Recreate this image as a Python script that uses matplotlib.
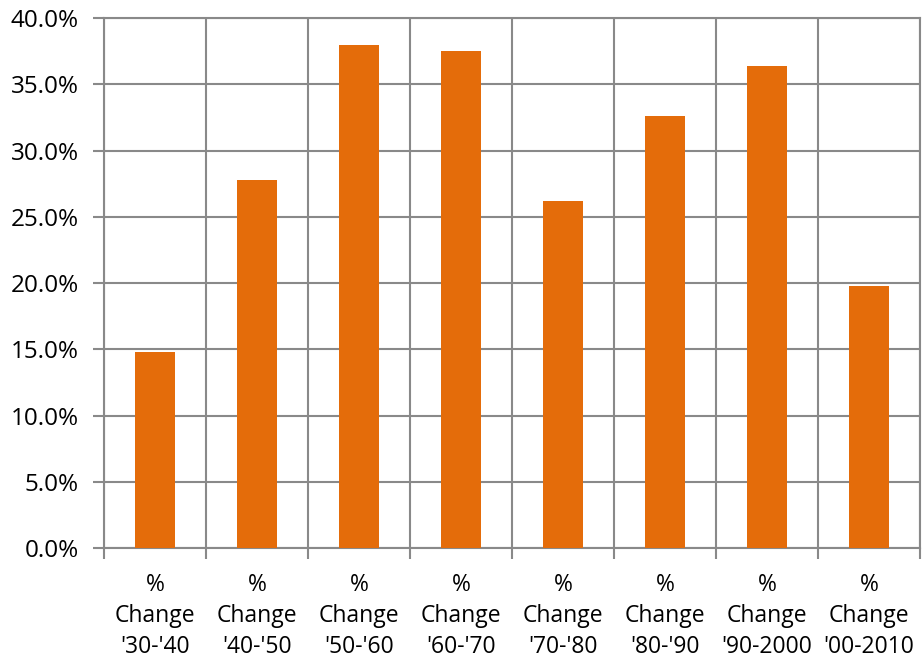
import matplotlib
matplotlib.use("Agg")
import matplotlib.pyplot as plt
from matplotlib.ticker import FuncFormatter, MultipleLocator, FixedLocator
import numpy as np

plt.rcParams['font.family'] = ['Open Sans', 'DejaVu Sans']

# census decade-over-decade growth
periods = ["'30-'40", "'40-'50", "'50-'60", "'60-'70", "'70-'80", "'80-'90", "'90-2000", "'00-2010"]
pct_change = [14.8, 27.8, 38.0, 37.5, 26.2, 32.6, 36.4, 19.8]

labels = ["%\nChange\n" + p for p in periods]
grid_col = '#898989'
bar_col = '#E46C0A'

fig = plt.figure(figsize=(9.22, 6.57), dpi=100)
ax = fig.add_axes([0.1128, 0.1659, 0.8850, 0.8067])

x = np.arange(len(periods))
ax.bar(x, pct_change, width=0.4, color=bar_col, zorder=3)

ax.set_xlim(-0.5, len(periods) - 0.5)
ax.set_ylim(0, 40)
ax.yaxis.set_major_locator(MultipleLocator(5))
ax.yaxis.set_major_formatter(FuncFormatter(lambda v, _: f"{v:.1f}%"))

ax.set_xticks(x)
ax.set_xticklabels(labels, linespacing=1.38)
ax.xaxis.set_minor_locator(FixedLocator(np.arange(-0.5, len(periods), 1.0)))
ax.tick_params(axis='x', which='major', length=0, pad=18, labelsize=16.5)
ax.tick_params(axis='x', which='minor', length=8, width=1.5, color=grid_col)
ax.tick_params(axis='y', length=8, width=1.5, color=grid_col, labelsize=17.5, pad=10)

ax.grid(axis='y', which='major', color=grid_col, linewidth=1.5, zorder=0)
ax.grid(axis='x', which='minor', color=grid_col, linewidth=1.5, zorder=0)
ax.set_axisbelow(True)
for s in ax.spines.values():
    s.set_color(grid_col)
    s.set_linewidth(1.5)

fig.savefig("out.png", dpi=100)
